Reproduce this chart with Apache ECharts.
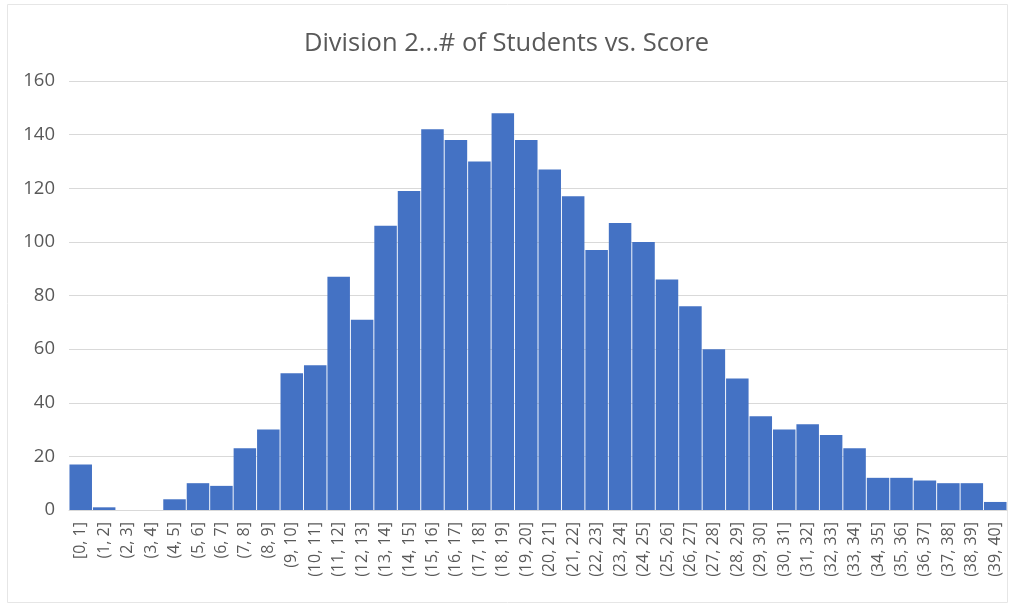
<!DOCTYPE html>
<html>
<head>
<meta charset="utf-8">
<script src="https://cdn.jsdelivr.net/npm/echarts@6/dist/echarts.min.js"></script>
<style>
  html, body { margin: 0; padding: 0; background: #fff; }
  #chart { width: 1013px; height: 605px; }
</style>
</head>
<body>
<div id="chart"></div>
<script>
// score bins and counts
var bins = ['[0, 1]', '(1, 2]', '(2, 3]', '(3, 4]', '(4, 5]', '(5, 6]', '(6, 7]', '(7, 8]', '(8, 9]', '(9, 10]',
  '(10, 11]', '(11, 12]', '(12, 13]', '(13, 14]', '(14, 15]', '(15, 16]', '(16, 17]', '(17, 18]', '(18, 19]', '(19, 20]',
  '(20, 21]', '(21, 22]', '(22, 23]', '(23, 24]', '(24, 25]', '(25, 26]', '(26, 27]', '(27, 28]', '(28, 29]', '(29, 30]',
  '(30, 31]', '(31, 32]', '(32, 33]', '(33, 34]', '(34, 35]', '(35, 36]', '(36, 37]', '(37, 38]', '(38, 39]', '(39, 40]'];
var students = [17, 1, 0, 0, 4, 10, 9, 23, 30, 51,
  54, 87, 71, 106, 119, 142, 138, 130, 148, 138,
  127, 117, 97, 107, 100, 86, 76, 60, 49, 35,
  30, 32, 28, 23, 12, 12, 11, 10, 10, 3];
var yTicks = [0, 160, 20]; // min, max, step

var myChart = echarts.init(document.getElementById('chart'));
var font = '"Open Sans", "Noto Sans", sans-serif';

myChart.setOption({
  animation: false,
  title: {
    text: 'Division 2...# of Students vs. Score',
    left: 'center',
    top: 26,
    textStyle: { fontFamily: font, fontSize: 25.5, fontWeight: 'normal', color: '#595959' }
  },
  graphic: [{
    type: 'rect',
    shape: { x: 7.5, y: 4.5, width: 1000, height: 598 },
    style: { fill: 'none', stroke: '#e6e6e6', lineWidth: 1 },
    silent: true
  }],
  grid: { left: 69, right: 6, top: 81, bottom: 95 },
  xAxis: {
    type: 'category',
    data: bins,
    axisLine: { lineStyle: { color: '#d9d9d9' } },
    axisTick: { show: false },
    axisLabel: { rotate: 90, interval: 0, fontFamily: font, fontSize: 16, color: '#595959', margin: 12 }
  },
  yAxis: {
    type: 'value',
    min: yTicks[0],
    max: yTicks[1],
    interval: yTicks[2],
    axisLine: { show: false },
    axisTick: { show: false },
    splitLine: { lineStyle: { color: '#d9d9d9', width: 1 } },
    axisLabel: { fontFamily: font, fontSize: 18.5, color: '#595959', margin: 14 }
  },
  series: [{
    type: 'bar',
    data: students,
    barCategoryGap: '4%',
    itemStyle: { color: '#4472c4' }
  }]
});
</script>
</body>
</html>
